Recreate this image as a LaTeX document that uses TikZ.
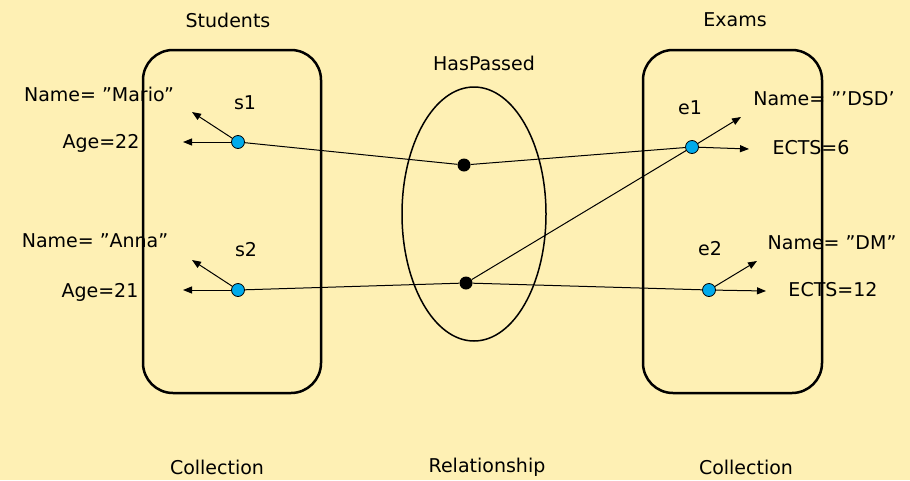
\documentclass[tikz,border=0pt]{standalone}
\usepackage{fontspec}
\setmainfont{DejaVu Sans}
\usepackage{tikz}
\usetikzlibrary{arrows,arrows.meta,shapes}
\definecolor{paper}{RGB}{254,240,180}
\definecolor{objblue}{RGB}{0,170,235}

\begin{document}
\begin{tikzpicture}[x=1pt,y=-1pt,
	every node/.style={font=\fontsize{19}{22}\selectfont},
	obj/.style={circle,draw,line width=0.8pt,fill=objblue,inner sep=0pt,minimum size=13pt},
	rel/.style={circle,fill=black,inner sep=0pt,minimum size=13pt},
	attr/.style={-{Triangle[length=9pt,width=7pt]},line width=1pt},
	link/.style={line width=1pt},
	coll/.style={draw,line width=2.5pt,rounded corners=30pt}]
		\useasboundingbox (0,0) rectangle (910,480);
		\fill[paper] (0,0) rectangle (910,480);
		% students collection
		\draw[coll] (143,50) rectangle (321,393);
		\node (students) at (228,20) {Students};
		\node (coll1) at (217,467) {Collection};
		% relationship
		\draw[line width=1.5pt] (474,214) ellipse (72pt and 127pt);
		\node (haspassed) at (484,63) {HasPassed};
		\node (relship) at (487,467) {Relationship};
		% exams collection
		\draw[coll] (643,50) rectangle (822,393);
		\node (exams) at (735,20) {Exams};
		\node (coll2) at (746,467) {Collection};
		% objects
		\node[obj] (s1) at (238,142) {};
		\node[obj] (s2) at (238,290) {};
		\node[obj] (e1) at (692,147) {};
		\node[obj] (e2) at (709,290) {};
		\node[rel] (r1) at (464,165) {};
		\node[rel] (r2) at (466,283) {};
		\node (s1lab) at (245,103) {s1};
		\node (s2lab) at (246,250) {s2};
		\node (e1lab) at (690,108) {e1};
		\node (e2lab) at (710,249) {e2};
		% attributes
		\coordinate (s1n) at (192,112);
		\coordinate (s1a) at (183,142);
		\coordinate (s2n) at (192,260);
		\coordinate (s2a) at (183,290);
		\coordinate (e1n) at (741,117);
		\coordinate (e1a) at (749,149);
		\coordinate (e2n) at (757,261);
		\coordinate (e2a) at (766,291);
		\node (mario) at (99,94) {Name= ''Mario''};
		\node (age22) at (101,143) {Age=22};
		\node (anna) at (95,241) {Name= ''Anna''};
		\node (age21) at (100,292) {Age=21};
		\node (dsd) at (824,99) {Name= '''DSD'};
		\node (ects6) at (811,148) {ECTS=6};
		\node (dm) at (832,243) {Name= ''DM''};
		\node (ects12) at (833,290) {ECTS=12};
		\draw[attr] (s1) -- (s1n);
		\draw[attr] (s1) -- (s1a);
		\draw[attr] (s2) -- (s2n);
		\draw[attr] (s2) -- (s2a);
		\draw[attr] (e1) -- (e1n);
		\draw[attr] (e1) -- (e1a);
		\draw[attr] (e2) -- (e2n);
		\draw[attr] (e2) -- (e2a);
		% pairs
		\draw[link] (s1) -- (r1) -- (e1);
		\draw[link] (s2) -- (r2) -- (e2);
		\draw[link] (r2) -- (e1);
	\end{tikzpicture}
\end{document}
